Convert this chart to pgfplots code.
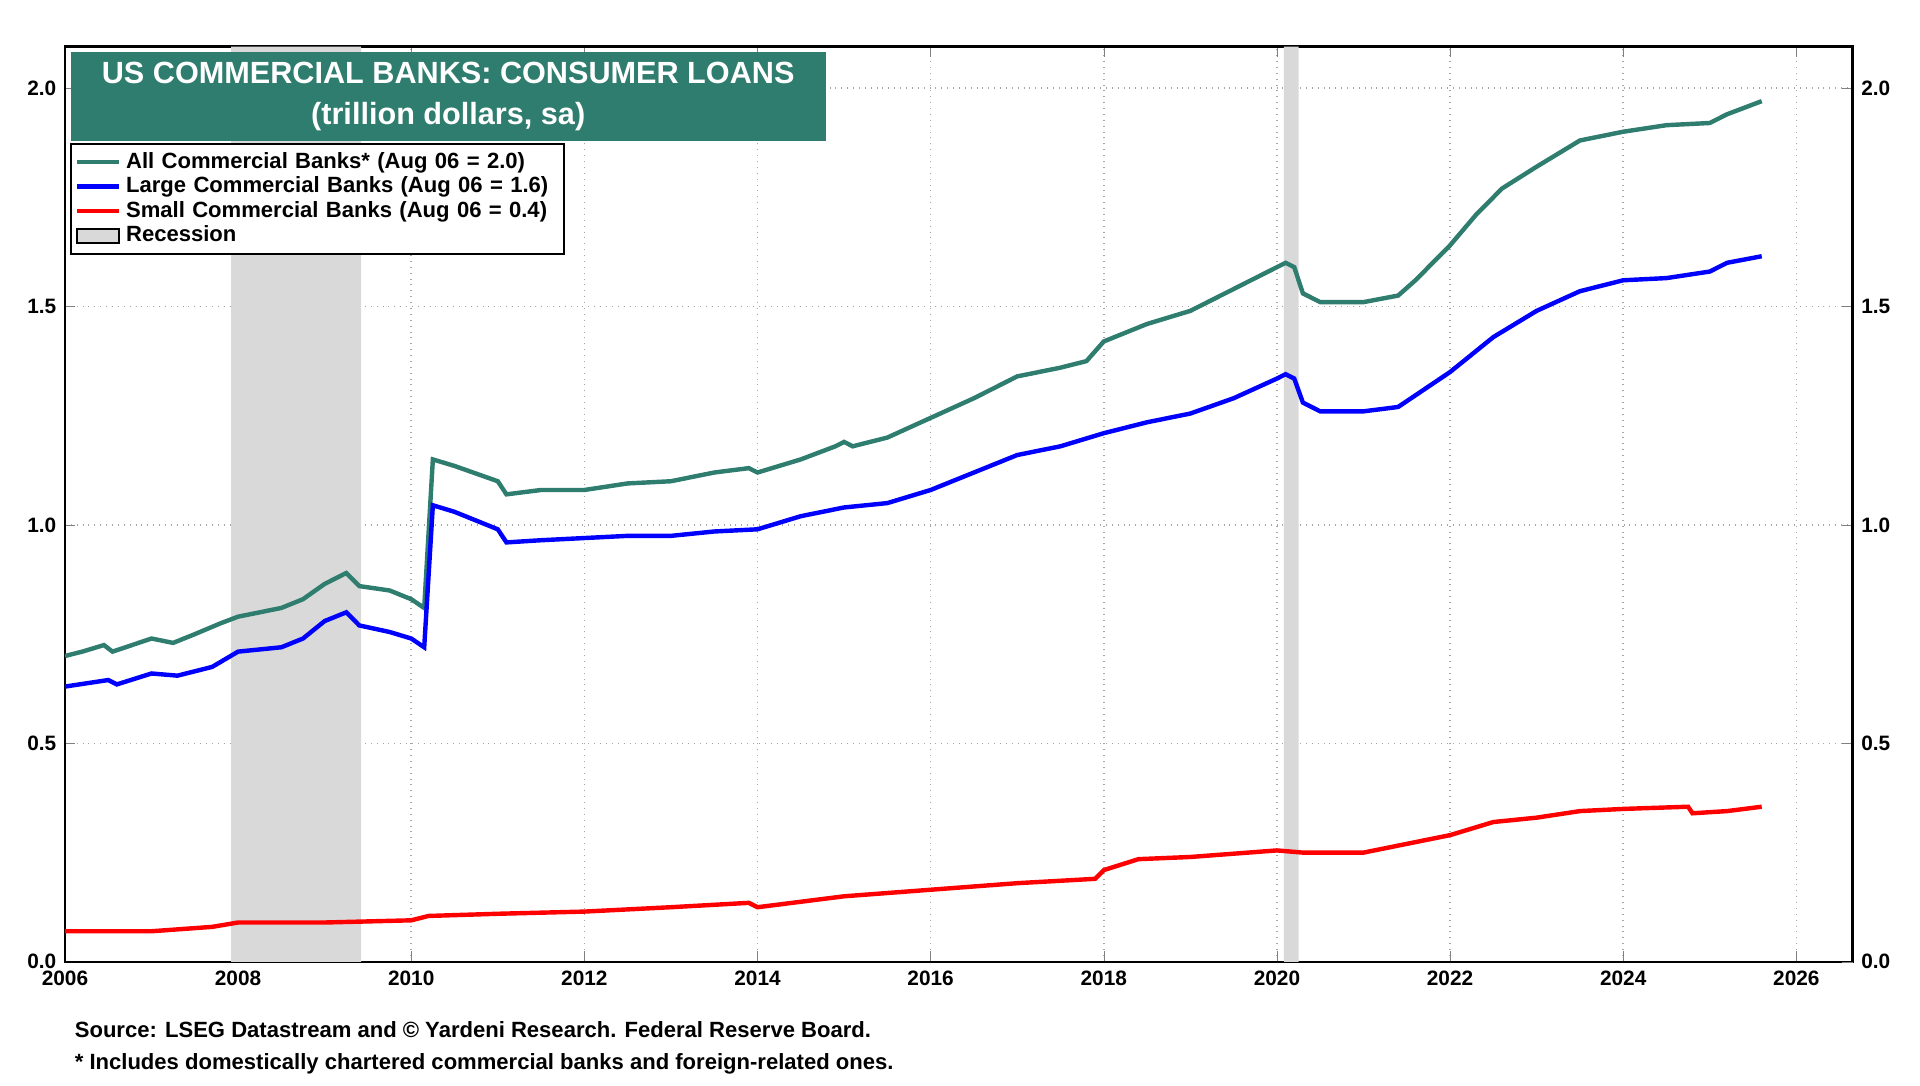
\documentclass[border=0pt]{standalone}
\usepackage{pgfplots}
\pgfplotsset{compat=1.18}
\usepackage{fontspec}
\setmainfont{Liberation Sans}
\definecolor{teal1}{HTML}{2E7D6E}
\definecolor{recg}{HTML}{D9D9D9}
\begin{document}
\begin{tikzpicture}
\path[use as bounding box] (0,0) rectangle (783.5pt,443pt);
\pgfplotsset{every axis/.append style={
  scale only axis, width=729.5pt, height=373.5pt,
  xmin=2006, xmax=2026.65, ymin=0, ymax=2.095,
  at={(26.5pt,50.5pt)}, anchor=south west,
  ytick={0,0.5,1,1.5,2},
  tick label style={font=\bfseries\fontsize{8.5}{10}\selectfont},
  yticklabel style={/pgf/number format/.cd,fixed,fixed zerofill,precision=1,assume math mode=true},
  tick align=inside, axis line style={line width=1pt}}}
\begin{axis}[
  xtick={2006,2008,...,2026},
  xticklabel style={/pgf/number format/.cd,set thousands separator={},assume math mode=true},
  grid=major, grid style={dotted, gray!70, line width=0.6pt},
  legend style={at={(rel axis cs:0.003,0.895)}, anchor=north west, draw=black, line width=0.8pt,
    font=\bfseries\fontsize{9}{10.5}\selectfont, row sep=-2pt, inner sep=1.5pt, text width=175pt},
  legend cell align=left,
]
\addplot[fill=recg, draw=none, forget plot] coordinates {(2007.92,0)(2007.92,2.095)(2009.42,2.095)(2009.42,0)} \closedcycle;
\addplot[fill=recg, draw=none, forget plot] coordinates {(2020.08,0)(2020.08,2.095)(2020.25,2.095)(2020.25,0)} \closedcycle;
\addplot[teal1, line width=1.8pt] coordinates {
(2006.0,0.70)(2006.2,0.71)(2006.45,0.725)(2006.55,0.71)(2007.0,0.74)(2007.25,0.73)(2007.5,0.75)(2007.8,0.775)(2008.0,0.79)(2008.5,0.81)(2008.75,0.83)(2009.0,0.865)(2009.25,0.89)(2009.4,0.86)(2009.75,0.85)(2010.0,0.83)(2010.15,0.81)
(2010.25,1.15)(2010.5,1.135)(2011.0,1.10)(2011.1,1.07)(2011.5,1.08)(2012.0,1.08)(2012.5,1.095)(2013.0,1.10)(2013.5,1.12)(2013.9,1.13)(2014.0,1.12)(2014.5,1.15)(2014.9,1.18)(2015.0,1.19)(2015.1,1.18)(2015.5,1.20)(2016.0,1.245)(2016.5,1.29)(2017.0,1.34)(2017.5,1.36)(2017.8,1.375)(2018.0,1.42)(2018.5,1.46)(2019.0,1.49)(2019.5,1.54)(2019.75,1.565)(2020.0,1.59)(2020.1,1.60)(2020.2,1.59)(2020.3,1.53)(2020.5,1.51)(2021.0,1.51)(2021.4,1.525)(2021.6,1.56)(2022.0,1.64)(2022.3,1.71)(2022.6,1.77)(2023.0,1.82)(2023.5,1.88)(2024.0,1.90)(2024.5,1.915)(2025.0,1.92)(2025.2,1.94)(2025.6,1.97)};
\addlegendentry{All Commercial Banks* (Aug 06 = 2.0)}
\addplot[blue, line width=1.8pt] coordinates {
(2006.0,0.63)(2006.5,0.645)(2006.6,0.635)(2007.0,0.66)(2007.3,0.655)(2007.7,0.675)(2008.0,0.71)(2008.5,0.72)(2008.75,0.74)(2009.0,0.78)(2009.25,0.80)(2009.4,0.77)(2009.75,0.755)(2010.0,0.74)(2010.15,0.72)
(2010.25,1.045)(2010.5,1.03)(2011.0,0.99)(2011.1,0.96)(2011.5,0.965)(2012.0,0.97)(2012.5,0.975)(2013.0,0.975)(2013.5,0.985)(2014.0,0.99)(2014.5,1.02)(2015.0,1.04)(2015.5,1.05)(2016.0,1.08)(2016.5,1.12)(2017.0,1.16)(2017.5,1.18)(2018.0,1.21)(2018.5,1.235)(2019.0,1.255)(2019.5,1.29)(2020.0,1.335)(2020.1,1.345)(2020.2,1.335)(2020.3,1.28)(2020.5,1.26)(2021.0,1.26)(2021.4,1.27)(2022.0,1.35)(2022.5,1.43)(2023.0,1.49)(2023.5,1.535)(2024.0,1.56)(2024.5,1.565)(2025.0,1.58)(2025.2,1.60)(2025.6,1.615)};
\addlegendentry{Large Commercial Banks (Aug 06 = 1.6)}
\addplot[red, line width=1.8pt] coordinates {
(2006.0,0.07)(2007.0,0.07)(2007.7,0.08)(2008.0,0.09)(2009.0,0.09)(2010.0,0.095)(2010.2,0.105)(2011.0,0.11)(2012.0,0.115)(2013.0,0.125)(2013.9,0.135)(2014.0,0.125)(2015.0,0.15)(2016.0,0.165)(2017.0,0.18)(2017.9,0.19)(2018.0,0.21)(2018.4,0.235)(2019.0,0.24)(2020.0,0.255)(2020.3,0.25)(2021.0,0.25)(2021.5,0.27)(2022.0,0.29)(2022.5,0.32)(2023.0,0.33)(2023.5,0.345)(2024.0,0.35)(2024.75,0.355)(2024.8,0.34)(2025.2,0.345)(2025.6,0.355)};
\addlegendentry{Small Commercial Banks (Aug 06 = 0.4)}
\addlegendimage{area legend, fill=recg, draw=none}
\addlegendentry{Recession}
\node[anchor=north west, fill=teal1, text=white, font=\bfseries\fontsize{12.5}{17}\selectfont, align=center,
  minimum width=308pt, minimum height=36.5pt, inner sep=0pt] at (rel axis cs:0.003,0.995)
  {US COMMERCIAL BANKS: CONSUMER LOANS\\(trillion dollars, sa)};
\end{axis}
\begin{axis}[axis y line*=right, axis x line=none, yticklabel pos=right]
\addplot[draw=none] coordinates {(2010,1)};
\end{axis}
\node[anchor=west, font=\bfseries\fontsize{9}{11}\selectfont] at (27pt,23pt) {Source: LSEG Datastream and © Yardeni Research. Federal Reserve Board.};
\node[anchor=west, font=\bfseries\fontsize{9}{11}\selectfont] at (27pt,9pt) {* Includes domestically chartered commercial banks and foreign-related ones.};
\end{tikzpicture}
\end{document}
